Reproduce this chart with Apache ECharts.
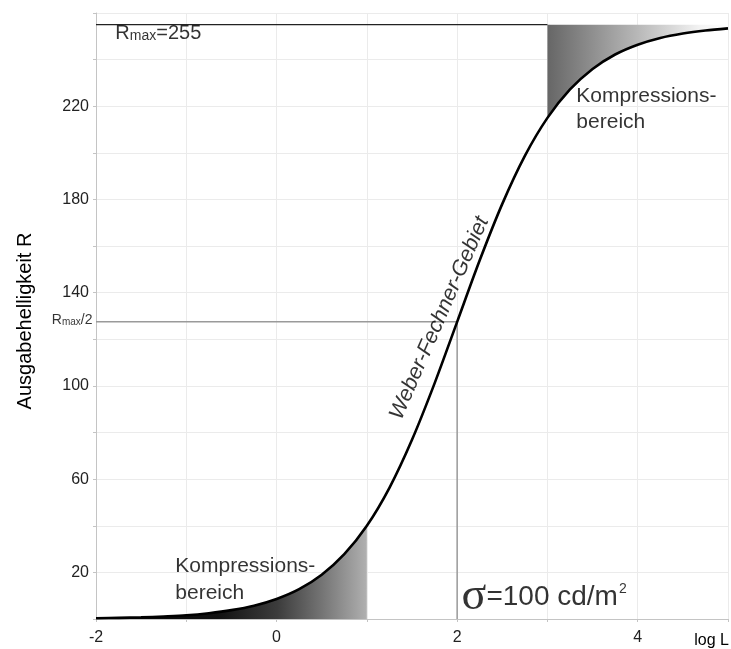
<!DOCTYPE html>
<html><head><meta charset="utf-8">
<script src="https://cdn.jsdelivr.net/npm/echarts@6/dist/echarts.min.js"></script>
<style>html,body{margin:0;padding:0;background:#fff}#c{width:731px;height:649px}</style>
</head><body><div id="c"></div>
<script>
// x values (log L) and the read-off output brightness R
const logL = [-2,-1.75,-1.5,-1.25,-1,-0.75,-0.5,-0.25,0,0.25,0.5,0.75,1,1.25,1.5,1.75,2,2.25,2.5,2.75,3,3.25,3.5,3.75,4,4.25,4.5,4.75,5];
const R    = [0.3,0.5,0.7,1.1,1.6,2.5,3.8,5.7,8.6,12.8,19.0,27.8,40.0,56.3,76.9,101.1,127.5,153.9,178.1,198.7,215.0,227.2,236.0,242.2,246.4,249.3,251.2,252.5,253.4];
const xTickLabels = [-2,0,2,4];
const yTickLabels = [20,60,100,140,180,220];
const Rmax = 255;
const sigmaLog = 2;
const lowerEnd = 1;
const upperStart = 3;

const curve = logL.map((x,i)=>[x,R[i]]);
const lower = curve.filter(p=>p[0]<=lowerEnd);
const upper = curve.filter(p=>p[0]>=upperStart);
const xMin = logL[0], xMax = logL[logL.length-1];

const FONT = 'Liberation Sans, Arial, sans-serif';
const chart = echarts.init(document.getElementById('c'));
const G = echarts.graphic.LinearGradient;

const textBase = {color:'#000', fontFamily:FONT};

chart.setOption({
  animation:false,
  grid:{left:96,right:2,top:13,bottom:30},
  xAxis:{type:'value',min:xMin,max:xMax,interval:1,
    axisLine:{onZero:false,lineStyle:{color:'#c4c4c4',width:1}},
    axisTick:{show:true,length:3,lineStyle:{color:'#c4c4c4'}},
    axisLabel:{margin:11,fontSize:16,color:'#222',fontFamily:FONT,
      formatter:v=>xTickLabels.includes(v)?String(v):''},
    splitLine:{show:true,lineStyle:{color:'#ebebeb',width:1}}
  },
  yAxis:{type:'value',min:0,max:260,interval:20,
    axisLine:{show:true,onZero:false,lineStyle:{color:'#c4c4c4',width:1}},
    axisTick:{show:true,length:3,lineStyle:{color:'#c4c4c4'}},
    axisLabel:{margin:7,fontSize:16,color:'#222',fontFamily:FONT,
      formatter:v=>yTickLabels.includes(v)?String(v):''},
    splitLine:{show:true,lineStyle:{color:'#ebebeb',width:1}}
  },
  graphic:[
    {type:'text',x:25,y:321,rotation:Math.PI/2,
      style:{text:'Ausgabehelligkeit R',fontSize:20,fontFamily:FONT,fill:'#000',align:'center',verticalAlign:'middle'}},
    {type:'text',right:2,top:633,
      style:{text:'log L',fontSize:16,fontFamily:FONT,fill:'#000'}}
  ],
  series:[
    {type:'line',data:lower,smooth:0.3,symbol:'none',silent:true,
      lineStyle:{width:0},
      areaStyle:{origin:'start',opacity:1,color:new G(0,0,1,0,[
        {offset:0,color:'#000'},{offset:0.45,color:'#111'},{offset:0.67,color:'#3c3c3c'},
        {offset:0.83,color:'#737373'},{offset:1,color:'#b0b0b0'}])}},
    {type:'line',data:upper,smooth:0.3,symbol:'none',silent:true,
      lineStyle:{width:0},
      areaStyle:{origin:Rmax,opacity:1,color:new G(0,0,1,0,[
        {offset:0,color:'#666'},{offset:0.5,color:'#b8b8b8'},{offset:0.85,color:'#f4f4f4'},{offset:1,color:'#fff'}])}},
    {type:'line',data:[[xMin,Rmax],[upperStart,Rmax]],symbol:'none',silent:true,
      lineStyle:{color:'#222',width:1.2}},
    {type:'line',data:[[xMin,Rmax/2],[sigmaLog,Rmax/2],[sigmaLog,0]],symbol:'none',silent:true,
      lineStyle:{color:'#9a9a9a',width:1.5}},
    {type:'line',data:curve,smooth:0.3,symbol:'none',silent:true,z:5,
      lineStyle:{color:'#000',width:2.6}},
    {type:'scatter',symbolSize:1,itemStyle:{color:'rgba(0,0,0,0)'},silent:true,z:6,clip:false,
      data:[
        {value:[-1.78,251],label:{show:true,position:[0,0],align:'left',verticalAlign:'middle',
          formatter:'{r|R}{s|max}{r|=255}',
          rich:{r:Object.assign({fontSize:20},textBase),s:Object.assign({fontSize:14,verticalAlign:'bottom'},textBase)}}},
        {value:[xMin,128],label:{show:true,position:[-3,0],align:'right',verticalAlign:'middle',
          formatter:'{r|R}{s|max}{r|/2}',
          rich:{r:Object.assign({fontSize:14},textBase),s:Object.assign({fontSize:10,verticalAlign:'bottom'},textBase)}}},
        {value:[3.326,218.5],label:{show:true,position:[0,0],align:'left',verticalAlign:'middle',
          formatter:'Kompressions-\nbereich',fontSize:21,lineHeight:26,color:'#000',fontFamily:FONT}},
        {value:[-1.116,16.8],label:{show:true,position:[0,0],align:'left',verticalAlign:'middle',
          formatter:'Kompressions-\nbereich',fontSize:21,lineHeight:27,color:'#000',fontFamily:FONT}},
        {value:[1.81,128.9],label:{show:true,position:[0,0],align:'center',verticalAlign:'middle',rotate:66.5,
          formatter:'Weber-Fechner-Gebiet',fontSize:21.5,fontStyle:'italic',color:'#000',fontFamily:FONT}},
        {value:[2.055,9.3],label:{show:true,position:[0,0],align:'left',verticalAlign:'middle',
          formatter:'{g|σ}{t|=100 cd/m}{p|2}',
          rich:{g:{fontSize:46,fontFamily:'Liberation Serif, serif',color:'#000'},
                t:Object.assign({fontSize:28},textBase),
                p:Object.assign({fontSize:14,verticalAlign:'top',padding:[8,0,0,1]},textBase)}}}
      ]}
  ]
});
</script>
</body></html>
